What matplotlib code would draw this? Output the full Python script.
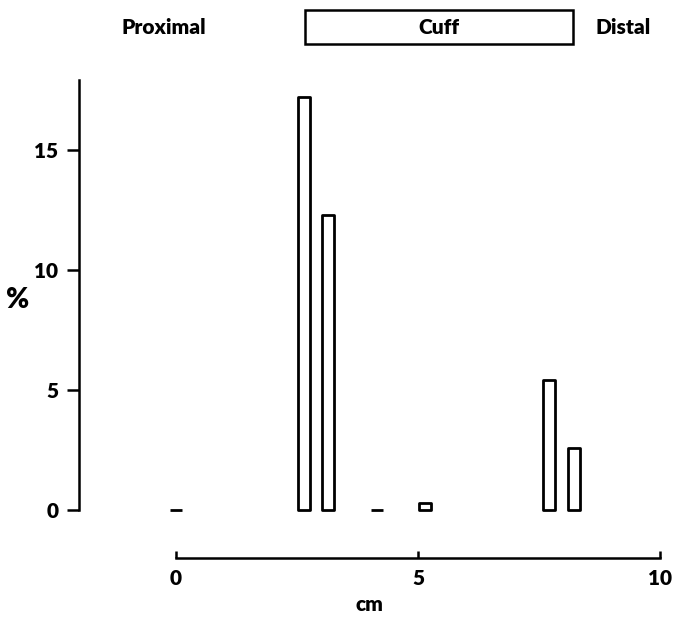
import numpy as np
import matplotlib.pyplot as plt
from matplotlib.patches import Rectangle

# distance along the artery (cm) and share of lesions (%)
positions = [0.0, 2.64, 3.14, 4.15, 5.14, 7.7, 8.22]
percent = [0.0, 17.2, 12.3, 0.0, 0.3, 5.4, 2.6]

cuff_start, cuff_end = 2.67, 8.2
xticks = [0, 5, 10]
yticks = [0, 5, 10, 15]

plt.rcParams['font.family'] = ['Lato', 'DejaVu Sans']
plt.rcParams['font.weight'] = 'bold'

fig = plt.figure(figsize=(6.75, 6.17), dpi=100)
ax = fig.add_axes([0.117, 0.0956, 0.861, 0.774])

ax.bar(positions, percent, width=0.25, color='white', edgecolor='black',
       linewidth=2.0, align='center', joinstyle='round')

ax.set_xlim(-2.0, 10.0)
ax.set_ylim(-2.0, 17.9)

for s in ['top', 'right']:
    ax.spines[s].set_visible(False)
ax.spines['left'].set_bounds(0, 17.9)
ax.spines['bottom'].set_bounds(0, 10)
ax.spines['left'].set_linewidth(1.8)
ax.spines['bottom'].set_linewidth(1.8)

ax.set_xticks(xticks)
ax.set_yticks(yticks)
ax.tick_params(axis='x', direction='in', length=5, width=1.8, labelsize=15, pad=8)
ax.tick_params(axis='y', direction='out', length=9, width=1.8, labelsize=15, pad=6)
for lab in ax.get_xticklabels() + ax.get_yticklabels():
    lab.set_fontweight('heavy')

ax.set_xlabel('cm', fontsize=15, fontweight='heavy', labelpad=5)
ax.set_ylabel('%', fontsize=20, fontweight='heavy', rotation=0, va='center', ha='center')
ax.yaxis.set_label_coords(-0.105, 0.54)

# cuff box and labels above the plot
cuff = Rectangle((cuff_start, 19.4), cuff_end - cuff_start, 1.45, facecolor='white',
                 edgecolor='black', linewidth=1.8, clip_on=False)
ax.add_patch(cuff)
ax.text((cuff_start + cuff_end) / 2, 20.12, 'Cuff', ha='center', va='center',
        fontsize=15, fontweight='heavy', clip_on=False)
ax.text(-0.25, 20.12, 'Proximal', ha='center', va='center', fontsize=15,
        fontweight='heavy', clip_on=False)
ax.text(9.24, 20.12, 'Distal', ha='center', va='center', fontsize=15,
        fontweight='heavy', clip_on=False)

fig.savefig('out.png', dpi=100)
